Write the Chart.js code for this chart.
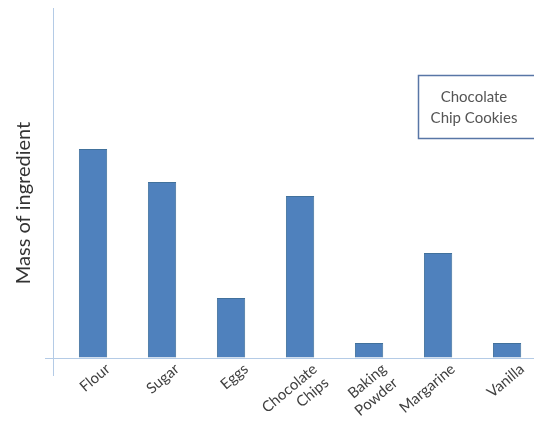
<!DOCTYPE html>
<html>
<head>
	<meta charset="utf-8">
	<title>Chocolate Chip Cookies</title>
	<script src="https://cdn.jsdelivr.net/npm/chart.js@4"></script>
	<style>
		html, body { margin: 0; padding: 0; background: #fff; overflow: hidden; }
		#wrap { width: 534px; height: 426px; }
	</style>
</head>
<body>
<div id="wrap">
	<canvas id="grafico"></canvas>
</div>

<script>
// datos del grafico
var ingredientes = ["Flour", "Sugar", "Eggs", ["Chocolate", "Chips"], ["Baking", "Powder"], "Margarine", "Vanilla"];
var masa = [209, 176, 60, 162, 15, 105, 15];
var serie = "Chocolate Chip Cookies";

var colorEje = "#b4cbe6";

// eje vertical: sube hasta arriba y baja un poco por debajo del eje x (como en el original)
var ejeVertical = {
	id: "ejeVertical",
	beforeDatasetsDraw: function (chart) {
		var c = chart.ctx;
		var x = Math.round(chart.chartArea.left) + 0.5;
		c.save();
		c.strokeStyle = colorEje;
		c.lineWidth = 1;
		c.beginPath();
		c.moveTo(x, 8);
		c.lineTo(x, chart.chartArea.bottom + 18);
		c.stroke();
		c.restore();
	}
};

// caja con el nombre de la serie
var cajaTitulo = {
	id: "cajaTitulo",
	afterDraw: function (chart) {
		var c = chart.ctx;
		c.save();
		c.strokeStyle = "#5876a6";
		c.lineWidth = 1.5;
		c.strokeRect(418.5, 75.5, 140, 63);
		c.fillStyle = "#555555";
		c.font = "15px Lato, 'Open Sans', sans-serif";
		c.textAlign = "center";
		c.textBaseline = "middle";
		c.fillText("Chocolate", 474, 97);
		c.fillText("Chip Cookies", 474, 118);
		c.restore();
	}
};

var ctx = document.getElementById("grafico").getContext("2d");
new Chart(ctx, {
	type: "bar",
	data: {
		datasets: [{
			label: serie,
			data: masa.map(function (v, i) { return { x: i, y: v }; }),
			backgroundColor: "#4f81bd",
			borderColor: "#41719c",
			borderWidth: 1,
			barPercentage: 0.41,
			categoryPercentage: 1
		}]
	},
	options: {
		responsive: true,
		maintainAspectRatio: false,
		animation: false,
		layout: { padding: { top: 48, left: 0, right: 0, bottom: 0 } },
		plugins: {
			legend: { display: false },
			tooltip: { enabled: false }
		},
		scales: {
			x: {
				type: "linear",
				offset: false,
				min: -0.58,
				max: 6.39,
				grid: { display: false, drawTicks: false },
				border: { display: false },
				afterBuildTicks: function (scale) {
					scale.ticks = ingredientes.map(function (_, i) { return { value: i }; });
				},
				afterFit: function (scale) { scale.height = 68; },
				ticks: {
					autoSkip: false,
					minRotation: 40,
					maxRotation: 40,
					padding: 2,
					labelOffset: 15,
					color: "#404040",
					font: { family: "Lato, 'Open Sans', sans-serif", size: 15 },
					callback: function (v) { return ingredientes[v]; }
				}
			},
			y: {
				min: 0,
				max: 310,
				afterBuildTicks: function (scale) { scale.ticks = [{ value: 0 }]; },
				afterFit: function (scale) { scale.width = 53; },
				ticks: { display: false },
				grid: {
					color: colorEje,
					lineWidth: 1,
					drawTicks: true,
					tickLength: 8
				},
				border: { display: false },
				title: {
					display: true,
					text: "Mass of ingredient",
					color: "#333333",
					font: { family: "Lato, 'Open Sans', sans-serif", size: 20 },
					padding: { top: 12, bottom: 0 }
				}
			}
		}
	},
	plugins: [ejeVertical, cajaTitulo]
});
</script>
</body>
</html>
